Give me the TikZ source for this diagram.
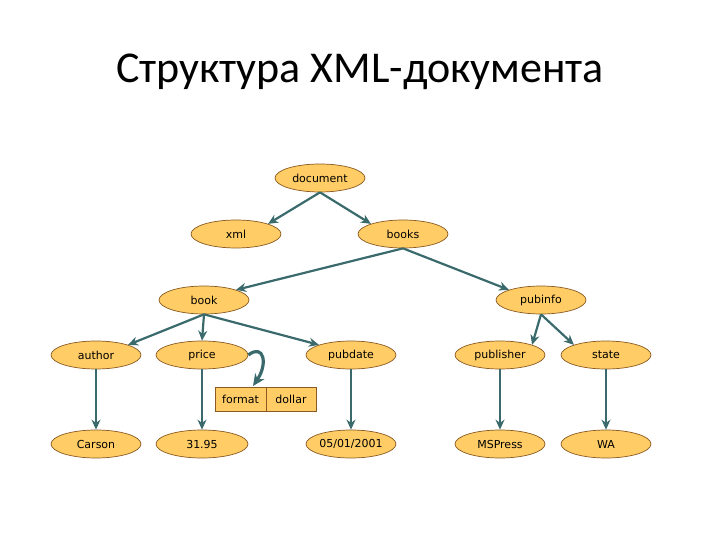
\documentclass[tikz,border=0pt]{standalone}
\usepackage{fontspec}
\setmainfont{DejaVu Sans}
\newfontfamily\titlefont{Carlito}
\usetikzlibrary{arrows.meta,shapes.geometric}
\definecolor{nodefill}{HTML}{FFCC66}
\definecolor{nodeedge}{HTML}{8A5A22}
\definecolor{arrowcol}{HTML}{3A6A6C}
\tikzset{
  elem/.style={ellipse, draw=nodeedge, fill=nodefill, line width=0.7pt,
    minimum width=90pt, minimum height=28pt, inner sep=0pt,
    font=\fontsize{11}{13}\selectfont},
  attrbox/.style={rectangle, draw=nodeedge, fill=nodefill, line width=0.7pt,
    minimum height=24pt, inner sep=0pt, font=\fontsize{11}{13}\selectfont},
  conn/.style={draw=arrowcol, line width=2.2pt, -{Stealth[length=10pt,width=9pt]}},
}
\begin{document}
\begin{tikzpicture}[x=1pt,y=-1pt]
\useasboundingbox (0,0) rectangle (720,540);
\node (title) at (360,72) {\titlefont\fontsize{44}{50}\selectfont Структура XML-документа};

\node[elem] (document) at (320,178) {document};
\node[elem] (xml) at (236,234) {xml};
\node[elem] (books) at (403,234) {books};
\node[elem] (book) at (204,300) {book};
\node[elem] (pubinfo) at (541,300) {pubinfo};
\node[elem] (author) at (96,355) {author};
\node[elem, minimum width=92pt] (price) at (202,355) {price};
\node[elem] (pubdate) at (351,355) {pubdate};
\node[elem] (publisher) at (500,355) {publisher};
\node[elem] (state) at (606,355) {state};
\node[elem] (carson) at (96,444) {Carson};
\node[elem, minimum width=92pt] (pricev) at (202,444) {31.95};
\node[elem] (date) at (351,444) {05/01/2001};
\node[elem] (mspress) at (500,444) {MSPress};
\node[elem] (wa) at (606,444) {WA};

\node[attrbox, minimum width=51pt] (format) at (240.5,399) {format};
\node[attrbox, minimum width=50pt] (dollar) at (291,399) {dollar};
\coordinate (fmttop) at (253,386);

\draw[conn] (document.south) -- (xml.north east);
\draw[conn] (document.south) -- (books.north west);
\draw[conn] (books.south) -- (book.north east);
\draw[conn] (books.south) -- (pubinfo.north west);
\draw[conn] (book.south) -- (author.north east);
\draw[conn] (book.south) -- (price.north);
\draw[conn] (book.south) -- (pubdate.north west);
\draw[conn] (pubinfo.south) -- (publisher.north east);
\draw[conn] (pubinfo.south) -- (state.north west);
\draw[conn] (author.south) -- (carson.north);
\draw[conn] (price.south) -- (pricev.north);
\draw[conn] (pubdate.south) -- (date.north);
\draw[conn] (publisher.south) -- (mspress.north);
\draw[conn] (state.south) -- (wa.north);
\draw[draw=arrowcol, line width=3.2pt, -{Stealth[length=12pt,width=11pt]}]
  (price.east) .. controls (264,343) and (268,364) .. (fmttop);
\end{tikzpicture}
\end{document}
